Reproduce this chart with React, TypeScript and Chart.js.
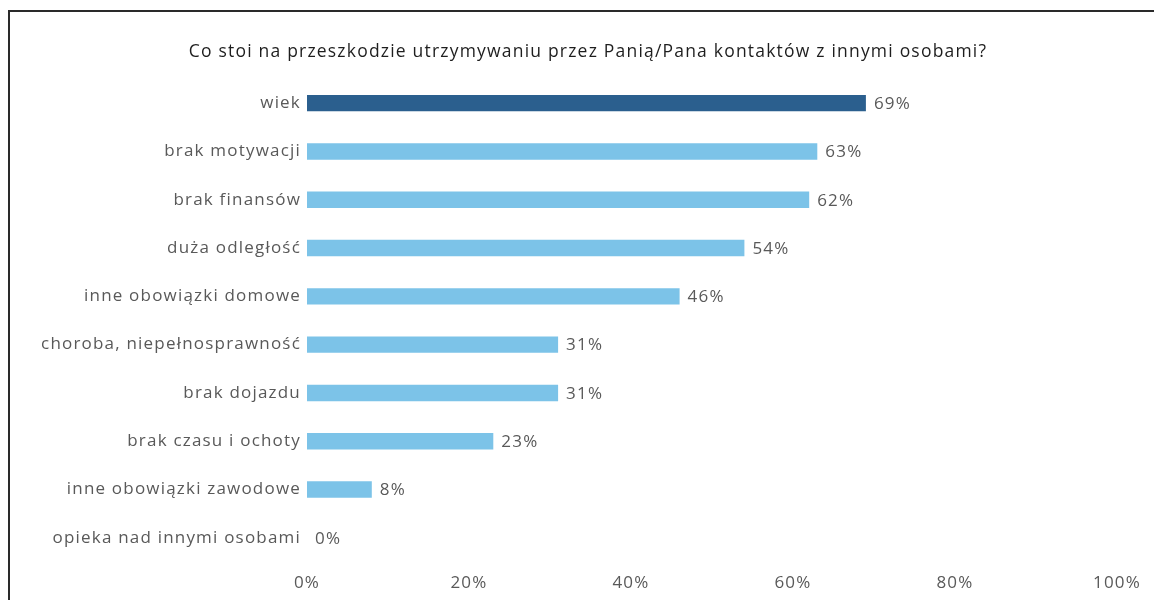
import React, { useEffect, useRef } from "react";
import { Chart, registerables } from "chart.js";

Chart.register(...registerables);

const titleText = "Co stoi na przeszkodzie utrzymywaniu przez Panią/Pana kontaktów z innymi osobami?";
const categories = [
  "wiek",
  "brak motywacji",
  "brak finansów",
  "duża odległość",
  "inne obowiązki domowe",
  "choroba, niepełnosprawność",
  "brak dojazdu",
  "brak czasu i ochoty",
  "inne obowiązki zawodowe",
  "opieka nad innymi osobami",
];
const values = [69, 63, 62, 54, 46, 31, 31, 23, 8, 0];
const barColors = ["#2b5f8e", "#7cc3e8", "#7cc3e8", "#7cc3e8", "#7cc3e8", "#7cc3e8", "#7cc3e8", "#7cc3e8", "#7cc3e8", "#7cc3e8"];
const xTicks = [0, 20, 40, 60, 80, 100];

const FONT = "'Open Sans', 'Noto Sans', sans-serif";

const spacing = {
  id: "spacing",
  beforeDraw(chart: any) {
    chart.ctx.letterSpacing = "1.2px";
  },
};

const titlePlugin = {
  id: "customTitle",
  afterDraw(chart: any) {
    const ctx = chart.ctx;
    ctx.save();
    ctx.font = `17.5px ${FONT}`;
    ctx.fillStyle = "#1e1e1e";
    ctx.textAlign = "center";
    ctx.textBaseline = "middle";
    ctx.fillText(titleText, 588, 52);
    ctx.restore();
  },
};

const valueLabels = {
  id: "valueLabels",
  afterDatasetsDraw(chart: any) {
    const ctx = chart.ctx;
    const meta = chart.getDatasetMeta(0);
    ctx.save();
    ctx.font = `17px ${FONT}`;
    ctx.fillStyle = "#595959";
    ctx.textAlign = "left";
    ctx.textBaseline = "middle";
    meta.data.forEach((bar: any, i: number) => {
      ctx.fillText(values[i] + "%", bar.x + 8, bar.y + 1);
    });
    ctx.restore();
  },
};

export default function App() {
  const ref = useRef<HTMLCanvasElement>(null);
  useEffect(() => {
    if (!ref.current) return;
    const chart = new Chart(ref.current, {
      type: "bar",
      data: {
        labels: categories,
        datasets: [
          {
            data: values,
            backgroundColor: barColors,
            categoryPercentage: 0.34,
            barPercentage: 1,
          },
        ],
      },
      options: {
        indexAxis: "y",
        animation: false,
        responsive: false,
        layout: { padding: { left: 10, right: 37, top: 79, bottom: 0 } },
        plugins: {
          legend: { display: false },
          tooltip: { enabled: false },
          title: { display: false },
        },
        scales: {
          x: {
            min: 0,
            max: 100,
            afterFit: (s: any) => {
              s.height = 38;
            },
            afterBuildTicks: (s: any) => {
              s.ticks = xTicks.map((v) => ({ value: v }));
            },
            grid: { display: false, drawTicks: false },
            border: { display: false },
            ticks: {
              padding: 11,
              color: "#595959",
              font: { family: FONT, size: 17 },
              callback: (v: any) => v + "%",
            },
          },
          y: {
            afterFit: (s: any) => {
              s.width = 297;
            },
            grid: { display: false, drawTicks: false },
            border: { display: false },
            ticks: {
              padding: 6,
              color: "#595959",
              font: { family: FONT, size: 17 },
            },
          },
        },
      },
      plugins: [spacing, titlePlugin, valueLabels],
    });
    return () => chart.destroy();
  }, []);
  return (
    <div style={{ position: "absolute", left: 0, top: 0, width: 1154, height: 600, background: "#fff", overflow: "hidden" }}>
      <div
        style={{
          position: "absolute",
          left: 8,
          top: 10,
          width: 1200,
          height: 700,
          borderLeft: "2px solid #2a2a2a",
          borderTop: "2px solid #2a2a2a",
        }}
      />
      <canvas ref={ref} width={1154} height={600} style={{ position: "absolute", left: 0, top: 0 }} />
    </div>
  );
}
